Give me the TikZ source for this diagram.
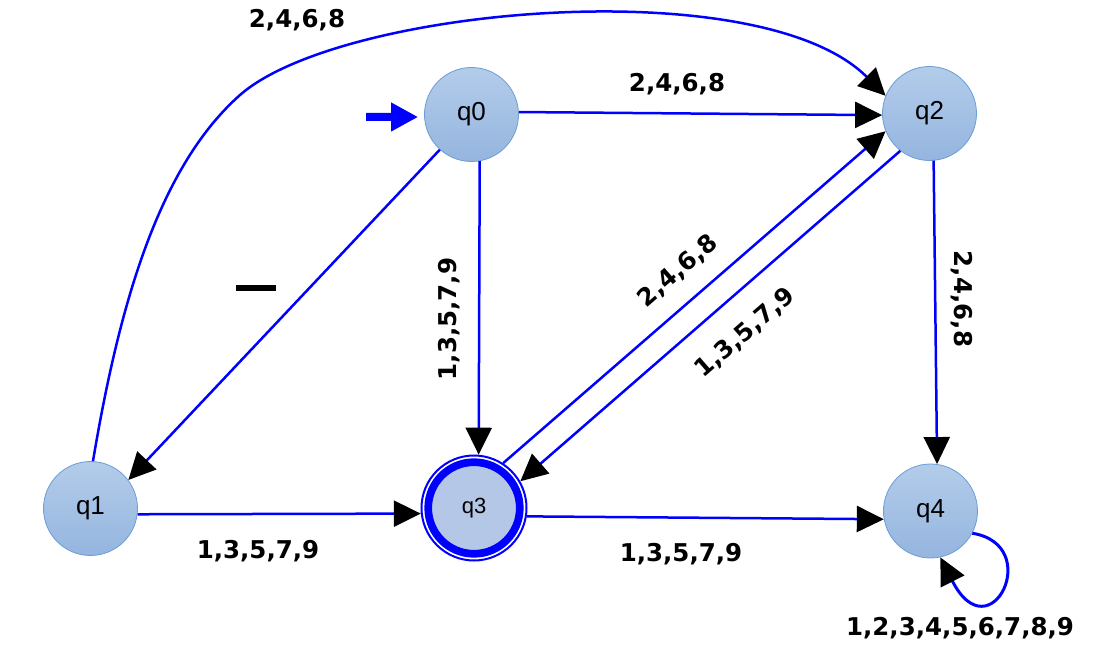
\documentclass[tikz,border=0pt]{standalone}
\usepackage{fontspec}
\setmainfont{Liberation Sans}
\newfontfamily\lblfont{DejaVu Sans}
\usetikzlibrary{arrows.meta}

\definecolor{edgeblue}{RGB}{0,0,255}
\definecolor{stateTop}{HTML}{B3CCEA}
\definecolor{stateBot}{HTML}{95B5DF}
\definecolor{stateLine}{HTML}{6A9ED6}
\definecolor{acceptFill}{HTML}{B4C7E7}

\tikzset{
  state/.style={circle, minimum size=94pt, inner sep=0pt,
    top color=stateTop, bottom color=stateBot, draw=stateLine, line width=0.8pt,
    font=\fontsize{26}{30}\selectfont},
  accept/.style={circle, minimum size=105pt, inner sep=0pt,
    draw=edgeblue, line width=2pt,
    path picture={
      \fill[acceptFill] (path picture bounding box.center) circle (46pt);
      \draw[edgeblue, line width=7.7pt] (path picture bounding box.center) circle (45.8pt);
    },
    font=\fontsize{22}{26}\selectfont},
  edge/.style={draw=edgeblue, line width=2.5pt,
    -{Triangle[length=27pt, width=26pt, color=black]}},
  lbl/.style={font=\lblfont\bfseries\fontsize{24.5}{28}\selectfont, inner sep=0pt, text=black}
}

\begin{document}
\begin{tikzpicture}[x=1pt, y=-1pt]
  \useasboundingbox (0,0) rectangle (1120,650);

  % states
  \node[state]  (q0) at (471.5,114.5) {q0};
  \node[state]  (q1) at (90.5,508.5)  {q1};
  \node[state]  (q2) at (929.5,113.5) {q2};
  \node[accept] (q3) at (474,508)     {q3};
  \node[state]  (q4) at (930.5,511)   {q4};

  % start marker
  \coordinate (start) at (366,117);
  \draw[edgeblue, line width=8pt, shorten >=6pt,
        -{Triangle[length=27pt, width=27pt]}] (start) -- (q0.183);

  % transitions
  \draw[edge] (q1.87) .. controls (120,300) and (160,166) .. (240,95)
                      .. controls (340,7) and (760,-30) .. (q2.158);
  \draw[edge] (q0.3)   -- (q2.182);
  \draw[edge] (q0.228) -- (q1.37);
  \draw[edge] (q0.-80) -- (q3.85);
  \draw[edge] (q1.-7)  -- (q3.186);
  \draw[edge] (q3.57)  -- (q2.202);
  \draw[edge] (q2.232) -- (q3.30);
  \draw[edge] (q2.-85) -- (q4.82);
  \draw[edge] (q3.-9)  -- (q4.190);
  \draw[edge, line width=3pt] (q4.-28) .. controls (1045,545) and (990,655) .. (q4.-78);

  % transition labels
  \node[inner sep=0pt] (eps) at (256,288) {\rule{40pt}{6pt}};
  \node[lbl, anchor=base] (l12)  at (297,28)  {2,4,6,8};
  \node[lbl, anchor=base] (l02)  at (677,92)  {2,4,6,8};
  \node[lbl, anchor=base] (l13)  at (258,558) {1,3,5,7,9};
  \node[lbl, anchor=base] (l34)  at (681,561) {1,3,5,7,9};
  \node[lbl, anchor=base] (l44)  at (960,635) {1,2,3,4,5,6,7,8,9};
  \node[lbl, rotate=90]   (l03)  at (449,319) {1,3,5,7,9};
  \node[lbl, rotate=-90]  (l24)  at (962,299) {2,4,6,8};
  \node[lbl, rotate=41]   (l32)  at (678,271) {2,4,6,8};
  \node[lbl, rotate=41]   (l23)  at (745,333) {1,3,5,7,9};
\end{tikzpicture}
\end{document}
